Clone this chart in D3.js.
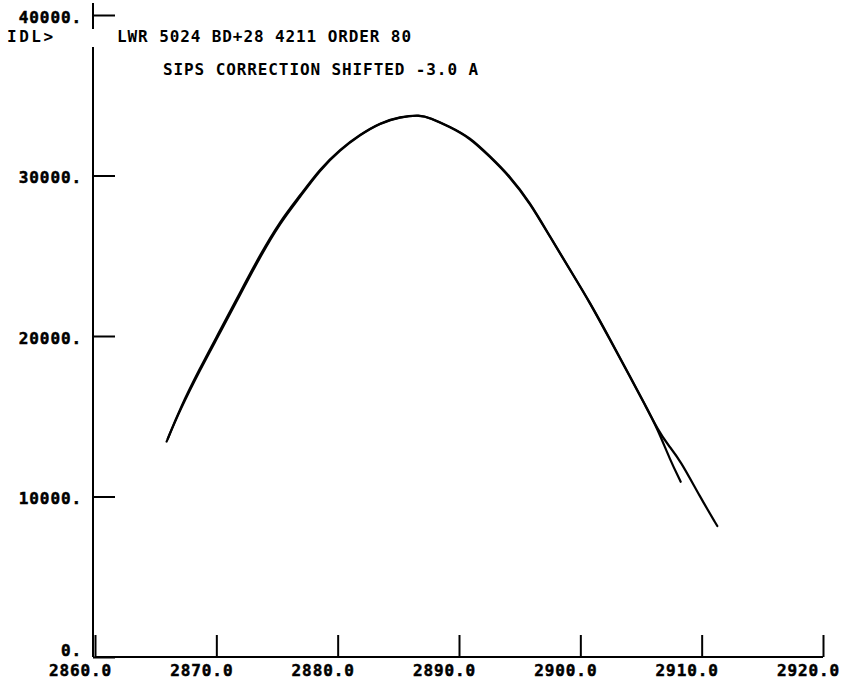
<!DOCTYPE html>
<html>
<head>
<meta charset="utf-8">
<script src="https://cdn.jsdelivr.net/npm/d3@7"></script>
<style>
  html, body { margin: 0; padding: 0; background: #fff; }
  svg { display: block; }
  text { font-family: "DejaVu Sans Mono", "Liberation Mono", monospace; font-weight: bold; fill: #000; }
</style>
</head>
<body>
<script>
// Spectrum of order 80, wavelength (A) vs. net flux
const waveA = [2866.0, 2867.0, 2868.65, 2870.3, 2871.95, 2873.6, 2875.25, 2876.9, 2878.55, 2880.2,
               2881.85, 2883.5, 2885.15, 2886.8, 2887.6, 2889.25, 2890.9, 2892.55, 2894.2, 2895.85,
               2897.5, 2899.15, 2900.8, 2902.45, 2904.1, 2905.35, 2906.4, 2907.4, 2908.27];
const fluxA = [13600, 15480, 18000, 20330, 22700, 25050, 27150, 28760, 30420, 31640,
               32560, 33290, 33660, 33780, 33600, 33050, 32380, 31200, 29960, 28330,
               26200, 24140, 22090, 19800, 17480, 15720, 14140, 12280, 10920];

// Same order after the SIPS correction, shifted by -3.0 A
const waveB = [2865.9, 2867.0, 2868.65, 2870.3, 2871.95, 2873.6, 2875.25, 2876.9, 2878.55, 2880.2,
               2881.85, 2883.5, 2885.15, 2886.8, 2887.6, 2889.25, 2890.9, 2892.55, 2894.2, 2895.85,
               2897.5, 2899.15, 2900.8, 2902.45, 2904.1, 2905.33, 2906.4, 2907.23, 2908.22, 2909.87, 2911.29];
const fluxB = [13420, 15390, 17880, 20190, 22560, 24920, 27040, 28660, 30350, 31590,
               32530, 33270, 33650, 33770, 33590, 33020, 32340, 31160, 29910, 28290,
               26170, 24110, 22060, 19750, 17450, 15700, 14140, 13210, 12280, 9970, 8160];

const xTicks = [2860, 2870, 2880, 2890, 2900, 2910, 2920];
const xTickLabels = ["2860.0", "2870.0", "2880.0", "2890.0", "2900.0", "2910.0", "2920.0"];
const yTicks = [0, 10000, 20000, 30000, 40000];
const yTickLabels = ["0.", "10000.", "20000.", "30000.", "40000."];

const promptText = "IDL>";
const titleText = "LWR 5024 BD+28 4211 ORDER 80";
const subtitleText = "SIPS CORRECTION SHIFTED -3.0 A";

const W = 841, H = 686;
const svg = d3.select("body").append("svg").attr("width", W).attr("height", H);

const x = d3.scaleLinear().domain([2860, 2920]).range([95, 823]);
const y = d3.scaleLinear().domain([0, 40000]).range([657, 15]);

const tickFont = 16;

function styleLabels(sel) {
  sel.attr("font-size", tickFont)
    .attr("letter-spacing", "0.9px")
    .attr("stroke", "#000")
    .attr("stroke-width", 0.5)
    .style("font-family", "'DejaVu Sans Mono', monospace")
    .style("font-weight", "bold");
}

// x axis: ticks point up into the plot
const xAxis = d3.axisBottom(x)
  .tickValues(xTicks)
  .tickFormat((d, i) => xTickLabels[i])
  .tickSizeInner(-22)
  .tickSizeOuter(0)
  .tickPadding(8);

const gx = svg.append("g").attr("transform", `translate(0,${y(0)})`).call(xAxis);
gx.select(".domain").remove();
gx.selectAll(".tick line").attr("stroke", "#000").attr("stroke-width", 2);
gx.selectAll(".tick text").call(styleLabels).attr("dx", -15);

// y axis: ticks point right into the plot
const yAxis = d3.axisLeft(y)
  .tickValues(yTicks)
  .tickFormat((d, i) => yTickLabels[i])
  .tickSizeInner(-22)
  .tickSizeOuter(0)
  .tickPadding(11);

const gy = svg.append("g").attr("transform", `translate(93,0)`).call(yAxis);
gy.select(".domain").remove();
gy.selectAll(".tick line").attr("stroke", "#000").attr("stroke-width", 2);
// the zero label sits just above the x axis so it clears the wavelength labels
gy.selectAll(".tick text").call(styleLabels)
  .attr("dy", d => d === 0 ? "-0.1em" : "0.45em");

// axis lines; the vertical one is broken where the prompt line was printed
svg.append("line")
  .attr("x1", x(2860)).attr("x2", x(2920))
  .attr("y1", y(0)).attr("y2", y(0))
  .attr("stroke", "#000").attr("stroke-width", 2);
svg.append("line")
  .attr("x1", 93).attr("x2", 93)
  .attr("y1", y(0)).attr("y2", 47)
  .attr("stroke", "#000").attr("stroke-width", 2);
svg.append("line")
  .attr("x1", 93).attr("x2", 93)
  .attr("y1", 29).attr("y2", 3)
  .attr("stroke", "#000").attr("stroke-width", 2);

// spectra
const line = d3.line()
  .x(d => x(d[0]))
  .y(d => y(d[1]))
  .curve(d3.curveBasis);

[[waveA, fluxA], [waveB, fluxB]].forEach(([w, f]) => {
  svg.append("path")
    .datum(w.map((v, i) => [v, f[i]]))
    .attr("d", line)
    .attr("fill", "none")
    .attr("stroke", "#000")
    .attr("stroke-width", 2.2)
    .attr("stroke-linejoin", "round")
    .attr("stroke-linecap", "round");
});

// annotations
svg.append("text").attr("x", 7).attr("y", 42)
  .attr("font-size", tickFont).attr("letter-spacing", "2.5px").text(promptText);
svg.append("text").attr("x", 117).attr("y", 42)
  .attr("font-size", tickFont).attr("letter-spacing", "0.9px").text(titleText);
svg.append("text").attr("x", 163).attr("y", 75)
  .attr("font-size", tickFont).attr("letter-spacing", "0.9px").text(subtitleText);
</script>
</body>
</html>
